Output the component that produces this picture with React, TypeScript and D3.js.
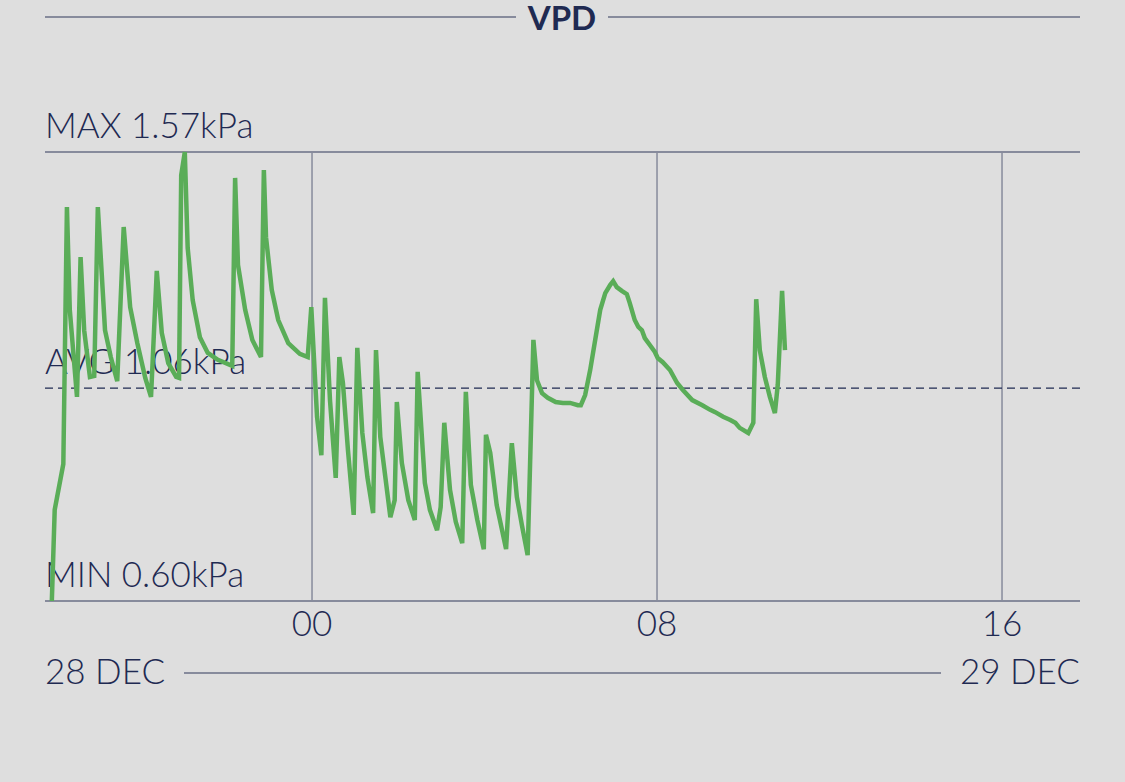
import React, { useEffect, useRef } from 'react';
import * as d3 from 'd3';

// minutes relative to 29 Dec 00:00 (negative = evening of 28 Dec)
const minutesFromMidnight = [
  -362, -358, -346, -341, -337, -327, -322, -317, -309, -303,
  -298, -288, -280, -271, -262, -253, -243, -232, -224, -216,
  -209, -200, -189, -185, -182, -177, -173, -166, -156, -145,
  -131, -111, -107, -103, -93, -83, -71, -67, -64, -56,
  -47, -33, -17, -6, -1, 7, 13, 18, 25, 33,
  38, 43, 50, 58, 63, 70, 77, 85, 89, 95,
  102, 109, 115, 118, 125, 134, 143, 147, 157, 164,
  174, 179, 184, 192, 200, 209, 214, 221, 230, 239,
  242, 248, 257, 270, 278, 285, 292, 300, 308, 313,
  320, 328, 339, 349, 359, 370, 374, 380, 387, 394,
  401, 408, 415, 419, 424, 431, 438, 442, 449, 454,
  459, 463, 470, 477, 481, 488, 498, 508, 516, 529,
  543, 554, 561, 572, 582, 589, 595, 607, 614, 618,
  623, 630, 637, 644, 648, 654, 658,
];

const vpdKpa = [
  0.600, 0.797, 0.896, 1.451, 1.229, 1.041, 1.343, 1.185, 1.084, 1.086,
  1.451, 1.185, 1.127, 1.075, 1.408, 1.235, 1.157, 1.082, 1.041, 1.313,
  1.179, 1.114, 1.084, 1.082, 1.520, 1.570, 1.363, 1.250, 1.170, 1.136,
  1.121, 1.108, 1.514, 1.326, 1.229, 1.164, 1.127, 1.531, 1.386, 1.272,
  1.207, 1.157, 1.134, 1.127, 1.235, 0.998, 0.915, 1.255, 1.034, 0.866,
  1.127, 1.071, 0.926, 0.786, 1.147, 0.963, 0.868, 0.790, 1.142, 0.954,
  0.868, 0.781, 0.818, 1.030, 0.898, 0.818, 0.775, 1.095, 0.855, 0.797,
  0.753, 0.803, 0.985, 0.840, 0.771, 0.725, 1.052, 0.851, 0.775, 0.712,
  0.959, 0.920, 0.807, 0.712, 0.941, 0.825, 0.764, 0.699, 1.164, 1.077,
  1.049, 1.039, 1.030, 1.028, 1.028, 1.023, 1.023, 1.045, 1.099, 1.164,
  1.229, 1.265, 1.283, 1.291, 1.278, 1.270, 1.263, 1.244, 1.207, 1.192,
  1.185, 1.168, 1.153, 1.138, 1.125, 1.116, 1.099, 1.071, 1.056, 1.034,
  1.023, 1.013, 1.008, 0.998, 0.991, 0.985, 0.974, 0.963, 0.985, 1.252,
  1.142, 1.084, 1.041, 1.006, 1.067, 1.270, 1.142,
];

const stats = { max: 1.57, avg: 1.06, min: 0.6 };
const tickHours = [0, 8, 16];
const dateLabels = ['28 DEC', '29 DEC'];
const title = 'VPD';

const NAVY = '#1f2a52';
const GRID = '#878b9c';
const GREEN = '#5aad58';
const FONT = 'Lato, "Noto Sans", sans-serif';

const App = () => {
  const ref = useRef<SVGSVGElement>(null);

  useEffect(() => {
    const svg = d3.select(ref.current);
    svg.selectAll('*').remove();

    const width = 1125;
    const height = 782;
    const margin = { top: 152, right: 45, bottom: 181, left: 45 };

    const midnight = new Date(2023, 11, 29, 0, 0);
    const at = (m: number) => new Date(midnight.getTime() + m * 60000);

    const x = d3.scaleTime()
      .domain([at(-371.5), at(1068.5)])
      .range([margin.left, width - margin.right]);

    const y = d3.scaleLinear()
      .domain([stats.min, stats.max])
      .range([height - margin.bottom, margin.top]);

    const data = minutesFromMidnight.map((m, i) => ({ t: at(m), v: vpdKpa[i] }));

    svg.append('rect')
      .attr('width', width)
      .attr('height', height)
      .attr('fill', '#dedede');

    // title with rules either side
    svg.append('line')
      .attr('x1', 45).attr('x2', 516)
      .attr('y1', 17).attr('y2', 17)
      .attr('stroke', GRID).attr('stroke-width', 2);
    svg.append('line')
      .attr('x1', 608).attr('x2', width - margin.right)
      .attr('y1', 17).attr('y2', 17)
      .attr('stroke', GRID).attr('stroke-width', 2);
    svg.append('text')
      .attr('x', 562).attr('y', 30)
      .attr('text-anchor', 'middle')
      .attr('font-family', FONT)
      .attr('font-weight', 700)
      .attr('font-size', 33)
      .attr('fill', NAVY)
      .text(title);

    // vertical grid lines at hour ticks
    svg.append('g')
      .selectAll('line')
      .data(tickHours)
      .enter().append('line')
      .attr('x1', d => x(at(d * 60)))
      .attr('x2', d => x(at(d * 60)))
      .attr('y1', y(stats.max))
      .attr('y2', y(stats.min))
      .attr('stroke', GRID)
      .attr('stroke-width', 1.5);

    // max / min frame lines
    [stats.max, stats.min].forEach(v => {
      svg.append('line')
        .attr('x1', margin.left).attr('x2', width - margin.right)
        .attr('y1', y(v)).attr('y2', y(v))
        .attr('stroke', GRID).attr('stroke-width', 2);
    });

    // average dashed line
    svg.append('line')
      .attr('x1', margin.left).attr('x2', width - margin.right)
      .attr('y1', y(stats.avg)).attr('y2', y(stats.avg))
      .attr('stroke', NAVY)
      .attr('stroke-width', 1.2)
      .attr('stroke-dasharray', '8,5');

    const label = (txt: string, v: number) => {
      svg.append('text')
        .attr('x', margin.left)
        .attr('y', y(v) - 14)
        .attr('font-family', FONT)
        .attr('font-weight', 300)
        .attr('font-size', 35)
        .attr('fill', NAVY)
        .text(txt);
    };
    label(`MAX ${stats.max.toFixed(2)}kPa`, stats.max);
    label(`AVG ${stats.avg.toFixed(2)}kPa`, stats.avg);
    label(`MIN ${stats.min.toFixed(2)}kPa`, stats.min);

    // hour tick labels
    svg.append('g')
      .selectAll('text')
      .data(tickHours)
      .enter().append('text')
      .attr('x', d => x(at(d * 60)))
      .attr('y', y(stats.min) + 35)
      .attr('text-anchor', 'middle')
      .attr('font-family', FONT)
      .attr('font-weight', 300)
      .attr('font-size', 35)
      .attr('fill', NAVY)
      .text(d => d3.format('02d')(d));

    // date row
    svg.append('text')
      .attr('x', margin.left).attr('y', 684)
      .attr('font-family', FONT).attr('font-weight', 300)
      .attr('font-size', 35).attr('fill', NAVY)
      .text(dateLabels[0]);
    svg.append('text')
      .attr('x', width - margin.right).attr('y', 684)
      .attr('text-anchor', 'end')
      .attr('font-family', FONT).attr('font-weight', 300)
      .attr('font-size', 35).attr('fill', NAVY)
      .text(dateLabels[1]);
    svg.append('line')
      .attr('x1', 184).attr('x2', 941)
      .attr('y1', 673).attr('y2', 673)
      .attr('stroke', GRID).attr('stroke-width', 2);

    // the VPD line
    const line = d3.line<{ t: Date; v: number }>()
      .x(d => x(d.t))
      .y(d => y(d.v));

    svg.append('path')
      .datum(data)
      .attr('d', line)
      .attr('fill', 'none')
      .attr('stroke', GREEN)
      .attr('stroke-width', 4.5)
      .attr('stroke-linejoin', 'miter');
  }, []);

  return (
    <div style={{ position: 'fixed', left: 0, top: 0, width: 1125, height: 782, background: '#dedede' }}>
      <svg ref={ref} width="1125" height="782"></svg>
    </div>
  );
};

export default App;
